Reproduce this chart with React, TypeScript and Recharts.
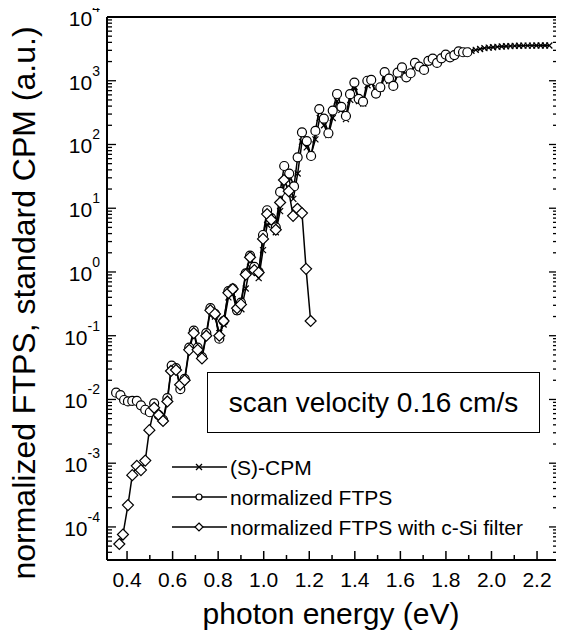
import { Legend, Line, LineChart, XAxis, YAxis } from "recharts";

// (S)-CPM, crosses
const cpmEnergy = [
  0.786, 0.805, 0.824, 0.845, 0.864, 0.883, 0.902, 0.921, 0.94, 0.959, 0.978, 0.997, 1.015, 1.034, 1.053,
  1.072, 1.091, 1.11, 1.13, 1.149, 1.168, 1.189, 1.208, 1.227, 1.246, 1.265, 1.284, 1.303, 1.322, 1.341,
  1.361, 1.38, 1.399, 1.418, 1.437, 1.456, 1.475, 1.494, 1.513, 1.532, 1.551, 1.57, 1.589, 1.608, 1.627,
  1.646, 1.665, 1.684, 1.703, 1.722, 1.741, 1.76, 1.779, 1.798, 1.817, 1.836, 1.855, 1.874, 1.893, 1.912,
  1.931, 1.95, 1.969, 1.988, 2.007, 2.026, 2.045, 2.064, 2.083, 2.102, 2.121, 2.14, 2.159, 2.178, 2.197,
  2.216, 2.235, 2.254,
];
const cpmSignal = [
  0.2, 0.11, 0.15, 0.4, 0.45, 0.24, 0.26, 0.55, 1.2, 1.05, 0.8, 2.2, 5.5, 6.0, 4.2,
  9, 25, 30, 14, 35, 110, 90, 70, 120, 260, 200, 140, 260, 480, 350,
  250, 500, 800, 480, 440, 850, 920, 620, 760, 1200, 1000, 850, 1250, 1500, 1150,
  1300, 1750, 1600, 1500, 1950, 2100, 1900, 2200, 2450, 2350, 2500, 2750, 2800, 2900, 2950,
  3050, 3150, 3250, 3300, 3350, 3400, 3450, 3480, 3500, 3520, 3540, 3550, 3560, 3560, 3570,
  3570, 3570, 3570,
];

// normalized FTPS, circles
const ftpsEnergy = [
  0.352, 0.371, 0.387, 0.404, 0.423, 0.443, 0.461, 0.48, 0.5, 0.519, 0.539, 0.558, 0.577, 0.596, 0.615,
  0.634, 0.653, 0.673, 0.693, 0.71, 0.729, 0.748, 0.766, 0.786, 0.805, 0.824, 0.845, 0.864, 0.883, 0.9,
  0.921, 0.94, 0.959, 0.978, 0.997, 1.015, 1.033, 1.053, 1.072, 1.09, 1.112, 1.133, 1.149, 1.168, 1.189,
  1.208, 1.227, 1.244, 1.264, 1.284, 1.303, 1.322, 1.341, 1.361, 1.379, 1.398, 1.417, 1.436, 1.455, 1.472,
  1.493, 1.512, 1.531, 1.55, 1.569, 1.588, 1.607, 1.626, 1.645, 1.664, 1.683, 1.704, 1.723, 1.742, 1.761,
  1.78, 1.799, 1.818, 1.837, 1.856, 1.875, 1.894,
];
const ftpsSignal = [
  0.0128, 0.0117, 0.0098, 0.0093, 0.0095, 0.0095, 0.0081, 0.0069, 0.0063, 0.0087, 0.0057, 0.0048, 0.0105, 0.034, 0.031,
  0.0145, 0.021, 0.065, 0.12, 0.065, 0.046, 0.11, 0.27, 0.22, 0.09, 0.17, 0.5, 0.55, 0.25, 0.33,
  0.95, 1.8, 1.2, 1.0, 3.8, 9.3, 7.0, 5.0, 18, 46, 35, 22, 63, 155, 113,
  66, 163, 360, 254, 150, 340, 620, 390, 280, 615, 935, 520, 470, 1000, 1030,
  630, 790, 1370, 1080, 830, 1340, 1620, 1130, 1310, 1900, 1670, 1480, 2050, 2220, 1900,
  2250, 2570, 2330, 2530, 2880, 2800, 2800,
];

// normalized FTPS with c-Si filter, diamonds
const filterEnergy = [
  0.366, 0.382, 0.404, 0.423, 0.443, 0.461, 0.48, 0.498, 0.519, 0.539, 0.558, 0.577, 0.593, 0.615, 0.633,
  0.653, 0.673, 0.693, 0.71, 0.729, 0.748, 0.766, 0.786, 0.805, 0.824, 0.845, 0.864, 0.883, 0.9, 0.921,
  0.94, 0.959, 0.978, 0.997, 1.015, 1.033, 1.053, 1.072, 1.089, 1.11, 1.129, 1.148, 1.168, 1.186, 1.206,
];
const filterSignal = [
  5.4e-5, 7.6e-5, 2.2e-4, 6.5e-4, 9.1e-4, 7.8e-4, 1.1e-3, 3.3e-3, 7.4e-3, 5.7e-3, 4.6e-3, 9.3e-3, 0.028, 0.029, 0.017,
  0.02, 0.06, 0.11, 0.06, 0.044, 0.1, 0.25, 0.22, 0.1, 0.17, 0.47, 0.54, 0.27, 0.31, 0.91,
  1.7, 1.07, 0.98, 3.3, 8.1, 6.6, 4.6, 12.3, 27.7, 18.5, 7.6, 9.8, 8.4, 1.12, 0.17,
];

const xTicks = [0.4, 0.5, 0.6, 0.7, 0.8, 0.9, 1.0, 1.1, 1.2, 1.3, 1.4, 1.5, 1.6, 1.7, 1.8, 1.9, 2.0, 2.1, 2.2];
const decades = [-5, -4, -3, -2, -1, 0, 1, 2, 3, 4];
const mantissas = [1, 2, 3, 4, 5, 6, 7, 8, 9];

const X_DOMAIN = [0.312, 2.292];
const Y_DOMAIN = [3.03e-5, 1e4];
const FONT = "'Liberation Sans', Arial, Helvetica, sans-serif";

const yTicks = decades
  .flatMap((d) => mantissas.map((m) => m * Math.pow(10, d)))
  .filter((v) => v >= Y_DOMAIN[0] && v <= Y_DOMAIN[1] * 1.0001);

const toPoints = (xs: number[], ys: number[]) => xs.map((e, i) => ({ energy: e, value: ys[i] }));
const cpmData = toPoints(cpmEnergy, cpmSignal);
const ftpsData = toPoints(ftpsEnergy, ftpsSignal);
const filterData = toPoints(filterEnergy, filterSignal);

const isMajorX = (v: number) => Math.round(v * 10) % 2 === 0;
const isDecade = (v: number) => Math.abs(Math.log10(v) - Math.round(Math.log10(v))) < 1e-6;

const BottomTick = (p: any) => {
  const major = isMajorX(p.payload.value);
  return (
    <g>
      <line x1={p.x} x2={p.x} y1={p.y} y2={p.y - (major ? 9 : 5)} stroke="#000" strokeWidth={1.5} />
      {major && (
        <text x={p.x} y={p.y + 27} textAnchor="middle" fontSize={21} fontFamily={FONT} fill="#000">
          {p.payload.value.toFixed(1)}
        </text>
      )}
    </g>
  );
};

const TopTick = (p: any) => {
  const major = isMajorX(p.payload.value);
  return <line x1={p.x} x2={p.x} y1={p.y} y2={p.y + (major ? 9 : 5)} stroke="#000" strokeWidth={1.5} />;
};

const LeftTick = (p: any) => {
  const major = isDecade(p.payload.value);
  const exp = Math.round(Math.log10(p.payload.value));
  return (
    <g>
      <line x1={p.x} x2={p.x + (major ? 9 : 5)} y1={p.y} y2={p.y} stroke="#000" strokeWidth={1.3} />
      {major && (
        <text x={p.x - 7} y={p.y + 9} textAnchor="end" fontSize={21} fontFamily={FONT} fill="#000">
          <tspan>10</tspan>
          <tspan dy={-14} fontSize={14}>{exp}</tspan>
        </text>
      )}
    </g>
  );
};

const RightTick = (p: any) => {
  const major = isDecade(p.payload.value);
  return <line x1={p.x} x2={p.x - (major ? 9 : 5)} y1={p.y} y2={p.y} stroke="#000" strokeWidth={1.3} />;
};

const CrossDot = (p: any) => (
  <g key={p.key}>
    <line x1={p.cx - 3} x2={p.cx + 3} y1={p.cy - 3} y2={p.cy + 3} stroke="#000" strokeWidth={1.2} />
    <line x1={p.cx - 3} x2={p.cx + 3} y1={p.cy + 3} y2={p.cy - 3} stroke="#000" strokeWidth={1.2} />
  </g>
);

const CircleDot = (p: any) => (
  <circle key={p.key} cx={p.cx} cy={p.cy} r={4.5} fill="#fff" stroke="#000" strokeWidth={1.2} />
);

const DiamondDot = (p: any) => (
  <polygon
    key={p.key}
    points={`${p.cx},${p.cy - 5.5} ${p.cx + 5.5},${p.cy} ${p.cx},${p.cy + 5.5} ${p.cx - 5.5},${p.cy}`}
    fill="#fff"
    stroke="#000"
    strokeWidth={1.2}
  />
);

const legendRows = [
  { label: "(S)-CPM", marker: "cross" },
  { label: "normalized FTPS", marker: "circle" },
  { label: "normalized FTPS with c-Si filter", marker: "diamond" },
];

const LegendBox = () => (
  <svg width={380} height={95}>
    {legendRows.map((row, i) => {
      const cy = 17 + i * 30;
      const cx = 39;
      return (
        <g key={row.label}>
          <line x1={12} x2={67} y1={cy} y2={cy} stroke="#000" strokeWidth={1.3} />
          {row.marker === "cross" && (
            <g>
              <line x1={cx - 3} x2={cx + 3} y1={cy - 3} y2={cy + 3} stroke="#000" strokeWidth={1.2} />
              <line x1={cx - 3} x2={cx + 3} y1={cy + 3} y2={cy - 3} stroke="#000" strokeWidth={1.2} />
            </g>
          )}
          {row.marker === "circle" && <circle cx={cx} cy={cy} r={3} fill="#fff" stroke="#000" strokeWidth={1.2} />}
          {row.marker === "diamond" && (
            <polygon
              points={`${cx},${cy - 4} ${cx + 4},${cy} ${cx},${cy + 4} ${cx - 4},${cy}`}
              fill="#fff"
              stroke="#000"
              strokeWidth={1.2}
            />
          )}
          <text x={70} y={cy + 8} fontSize={21} fontFamily={FONT} fill="#000">
            {row.label}
          </text>
        </g>
      );
    })}
  </svg>
);

export default function App() {
  // shifted up/left by the 8px body margin so the chart box sits at the page origin
  return (
    <div style={{ position: "relative", top: -8, left: -8, width: 564, height: 639, fontFamily: FONT }}>
      <LineChart width={564} height={639} margin={{ top: 16, right: 5, bottom: 0, left: 0 }}>
        <XAxis
          xAxisId="bottom"
          dataKey="energy"
          type="number"
          domain={X_DOMAIN}
          allowDataOverflow
          ticks={xTicks}
          interval={0}
          tick={(p: any) => <BottomTick {...p} />}
          tickSize={0}
          tickMargin={0}
          height={79}
          stroke="#000"
          strokeWidth={2}
          label={{
            content: () => (
              <text x={331} y={624} textAnchor="middle" fontSize={30} fontFamily={FONT} fill="#000">
                photon energy (eV)
              </text>
            ),
          }}
        />
        <XAxis
          xAxisId="top"
          orientation="top"
          type="number"
          domain={X_DOMAIN}
          allowDataOverflow
          ticks={xTicks}
          interval={0}
          tick={(p: any) => <TopTick {...p} />}
          tickSize={0}
          tickMargin={0}
          height={1}
          stroke="#000"
          strokeWidth={2}
        />
        <YAxis
          yAxisId="left"
          type="number"
          scale="log"
          domain={Y_DOMAIN}
          allowDataOverflow
          ticks={yTicks}
          interval={0}
          tick={(p: any) => <LeftTick {...p} />}
          tickSize={0}
          tickMargin={0}
          width={107}
          stroke="#000"
          strokeWidth={2}
          label={{
            content: () => (
              <text
                x={35}
                y={303}
                transform="rotate(-90 35 303)"
                textAnchor="middle"
                fontSize={32}
                fontFamily={FONT}
                fill="#000"
              >
                normalized FTPS, standard CPM (a.u.)
              </text>
            ),
          }}
        />
        <YAxis
          yAxisId="right"
          orientation="right"
          type="number"
          scale="log"
          domain={Y_DOMAIN}
          allowDataOverflow
          ticks={yTicks}
          interval={0}
          tick={(p: any) => <RightTick {...p} />}
          tickSize={0}
          tickMargin={0}
          width={1}
          stroke="#000"
          strokeWidth={2}
        />
        <Legend
          layout="vertical"
          align="center"
          verticalAlign="middle"
          content={() => <LegendBox />}
          wrapperStyle={{ left: 160, top: 450, width: 380, height: 95 }}
        />
        <Line
          name="(S)-CPM"
          data={cpmData}
          dataKey="value"
          xAxisId="bottom"
          yAxisId="left"
          stroke="#000"
          strokeWidth={1.5}
          dot={CrossDot}
          isAnimationActive={false}
        />
        <Line
          name="normalized FTPS"
          data={ftpsData}
          dataKey="value"
          xAxisId="bottom"
          yAxisId="left"
          stroke="#000"
          strokeWidth={1.5}
          dot={CircleDot}
          isAnimationActive={false}
        />
        <Line
          name="normalized FTPS with c-Si filter"
          data={filterData}
          dataKey="value"
          xAxisId="bottom"
          yAxisId="left"
          stroke="#000"
          strokeWidth={1.5}
          dot={DiamondDot}
          isAnimationActive={false}
        />
      </LineChart>
      <div
        style={{
          position: "absolute",
          left: 207,
          top: 372,
          width: 333,
          height: 61,
          boxSizing: "border-box",
          border: "1.5px solid #000",
          background: "#fff",
          display: "flex",
          alignItems: "center",
          justifyContent: "center",
          fontSize: 28,
          color: "#000",
        }}
      >
        scan velocity 0.16 cm/s
      </div>
    </div>
  );
}
